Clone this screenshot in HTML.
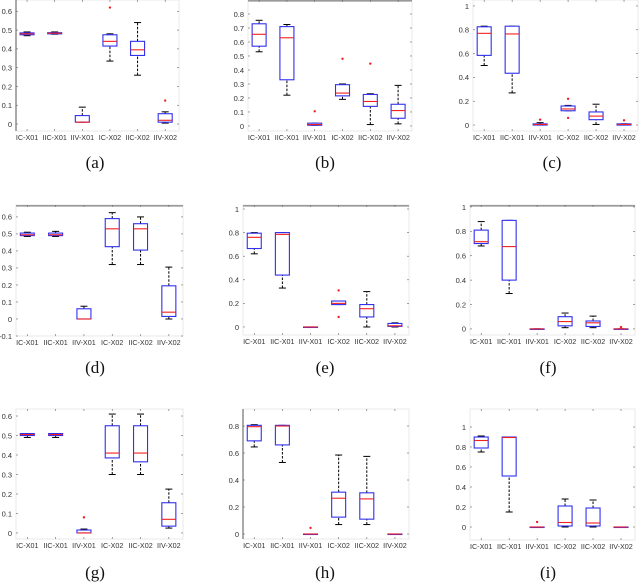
<!DOCTYPE html>
<html><head><meta charset="utf-8"><style>
html,body{margin:0;padding:0;background:#fff;}
svg{display:block;}
text{font-family:"Liberation Sans",sans-serif;}
text.cap{font-family:"Liberation Serif",serif;}
</style></head><body>
<svg id="fig" width="640" height="582" viewBox="0 0 640 582"></svg>
<script>
const categories = ["IC-X01","IIC-X01","IIV-X01","IC-X02","IIC-X02","IIV-X02"];
const panelLabels = ["(a)","(b)","(c)","(d)","(e)","(f)","(g)","(h)","(i)"];
// stats per box: [low whisker, q1, median, q3, high whisker]
const statsA = [[.47,.475,.48,.485,.49],[.478,.48,.483,.486,.49],[.01,.01,.01,.045,.09],[.335,.415,.44,.475,.48],[.26,.365,.395,.44,.54],[.005,.01,.02,.055,.065]];
const outA = [[],[],[],[.62],[],[.125]];
const statsB = [[.53,.57,.655,.73,.755],[.22,.33,.63,.71,.725],[.005,.005,.01,.02,.02],[.19,.215,.235,.295,.3],[.01,.14,.175,.225,.23],[.015,.055,.11,.155,.29]];
const outB = [[],[],[.105],[.48],[.445],[]];
const statsC = [[.5,.585,.77,.825,.83],[.27,.435,.765,.83,.83],[0,0,.005,.01,.02],[.12,.12,.135,.16,.165],[.005,.045,.075,.11,.175],[0,0,.005,.01,.01]];
const outC = [[],[],[.045],[.22,.06],[],[.04]];
const statsD = [[.485,.49,.495,.505,.51],[.485,.49,.495,.505,.515],[0,0,0,.06,.075],[.32,.425,.53,.59,.625],[.32,.405,.53,.56,.6],[0,.015,.04,.195,.305]];
const outD = [[],[],[],[],[],[]];
const statsE = [[.62,.665,.76,.795,.8],[.33,.44,.785,.8,.8],[0,0,0,0,0],[.19,.19,.2,.22,.22],[0,.085,.155,.19,.3],[0,.005,.01,.03,.035]];
const outE = [[],[],[],[.31,.085],[],[]];
const statsF = [[.68,.7,.715,.81,.88],[.29,.4,.675,.89,.89],[0,0,0,0,0],[.01,.025,.06,.1,.13],[.01,.02,.05,.065,.105],[0,0,0,0,0]];
const outF = [[],[],[],[],[],[.015]];
const statsG = [[.49,.5,.505,.51,.51],[.49,.5,.505,.51,.51],[0,0,0,.015,.02],[.3,.385,.41,.55,.61],[.3,.365,.41,.55,.61],[.025,.035,.07,.155,.225]];
const outG = [[],[],[.08],[],[],[]];
const statsH = [[.645,.69,.795,.805,.81],[.53,.66,.8,.805,.805],[0,0,0,0,0],[.07,.125,.265,.31,.585],[.07,.11,.26,.305,.575],[0,0,0,0,0]];
const outH = [[],[],[.045],[],[],[]];
const statsI = [[.75,.79,.865,.9,.91],[.15,.51,.895,.9,.9],[0,0,0,0,0],[0,.01,.045,.21,.28],[0,.01,.04,.19,.27],[0,0,0,0,0]];
const outI = [[],[],[.05],[],[],[]];
const ticksA = [0,.1,.2,.3,.4,.5,.6];
const ticksB = [0,.1,.2,.3,.4,.5,.6,.7,.8];
const ticksC = [0,.2,.4,.6,.8,1];
const ticksD = [-.1,0,.1,.2,.3,.4,.5,.6];
const ticksE = [0,.2,.4,.6,.8,1];
const ticksG = [0,.1,.2,.3,.4,.5,.6];
const ticksH = [0,.2,.4,.6,.8];

const allStats=[statsA,statsB,statsC,statsD,statsE,statsF,statsG,statsH,statsI];
const allOut=[outA,outB,outC,outD,outE,outF,outG,outH,outI];
const allTicks=[ticksA,ticksB,ticksC,ticksD,ticksE,ticksE,ticksG,ticksH,ticksE];
// layout: x0,x1,yTop,yBottom,yMin,yMax,topBar
const geo=[[16,179,0,131,-0.037,0.66,0],[248,412,0,131,-0.036,0.9,1],[473,638,0,131,-0.05,1.05,0],
[16,183,205,336,-0.1,0.67,1],[243,409,205,335,-0.068,1.034,1],[470,635,205,335,-0.05,1.016,1],
[16,183,409,539,-0.031,0.636,0],[243,409,409,539,-0.037,0.926,0],[470,635,409,540,-0.13,1.18,0]];
const capX=[95,325,552,95,325,548,95,325,548];
const capY=[168,168,168,373,373,373,578,578,578];
const NS="http://www.w3.org/2000/svg";
const svg=document.getElementById('fig');
function mk(tag,attrs,parent){const e=document.createElementNS(NS,tag);for(const k in attrs)e.setAttribute(k,attrs[k]);(parent||svg).appendChild(e);return e;}
geo.forEach((g,p)=>{
  const [x0,x1,yt,yb,ymin,ymax,bar]=g;
  const grp=mk('g',{});
  
  
  const X=i=>x0+(i+1-0.6)/(6.5-0.6)*(x1-x0);
  const Y=v=>yb-(v-ymin)/(ymax-ymin)*(yb-yt);
  const frame=mk('rect',{x:x0,y:yt,width:x1-x0,height:yb-yt,fill:'none',stroke:'#e4e4e4','stroke-width':0.8},grp);
  
  
  if(bar){const l=mk('line',{x1:x0,x2:x1,y1:yt+0.8,y2:yt+0.8,stroke:'#999','stroke-width':1.6},grp);
    }
  if(p===0||p===7){const l=mk('line',{x1:x0,x2:x0,y1:yt,y2:yb,stroke:'#555','stroke-width':1},grp);
    }
  allTicks[p].forEach(t=>{
    const y=Y(t);
    mk('line',{x1:x0,x2:x0+2,y1:y,y2:y,stroke:'#666','stroke-width':0.6},grp);
    mk('line',{x1:x1-2,x2:x1,y1:y,y2:y,stroke:'#666','stroke-width':0.6},grp);
    const tx=mk('text',{x:x0-4,y:y+2.8,'font-size':7.5,'text-anchor':'end',fill:'#333'},grp);
    tx.textContent=(Math.round(t*10)/10).toString();
    
    
  });
  categories.forEach((c,i)=>{
    const cx=X(i);
    mk('line',{x1:cx,x2:cx,y1:yt,y2:yt+2,stroke:'#666','stroke-width':0.6},grp);
    mk('line',{x1:cx,x2:cx,y1:yb-2,y2:yb,stroke:'#666','stroke-width':0.6},grp);
    const tx=mk('text',{x:cx,y:yb+9,'font-size':7.2,'text-anchor':'middle',fill:'#333'},grp);
    tx.textContent=c;
    
    
    const s=allStats[p][i];const w=7;
    const bg=mk('g',{},grp);
    
    
    mk('line',{x1:cx,x2:cx,y1:Y(s[0]),y2:Y(s[1]),stroke:'#000','stroke-width':1,'stroke-dasharray':'2.5,1.5'},bg);
    mk('line',{x1:cx,x2:cx,y1:Y(s[3]),y2:Y(s[4]),stroke:'#000','stroke-width':1,'stroke-dasharray':'2.5,1.5'},bg);
    mk('line',{x1:cx-3.5,x2:cx+3.5,y1:Y(s[0]),y2:Y(s[0]),stroke:'#000','stroke-width':1},bg);
    mk('line',{x1:cx-3.5,x2:cx+3.5,y1:Y(s[4]),y2:Y(s[4]),stroke:'#000','stroke-width':1},bg);
    mk('rect',{x:cx-w,y:Y(s[3]),width:2*w,height:Math.max(0.5,Y(s[1])-Y(s[3])),fill:'#fff',stroke:'#3030f0','stroke-width':1.1},bg);
    mk('line',{x1:cx-w,x2:cx+w,y1:Y(s[2]),y2:Y(s[2]),stroke:'#f02020','stroke-width':1.1},bg);
    allOut[p][i].forEach(o=>{mk('circle',{cx:cx,cy:Y(o),r:1.2,fill:'#f02020'},bg);});
  });
  const cap=mk('text',{x:capX[p],y:capY[p],'font-size':17,'text-anchor':'middle',fill:'#111','class':'cap',style:'font-family:"Liberation Serif",serif'},grp);
  cap.textContent=panelLabels[p];
  
  
});
</script>
</body></html>
